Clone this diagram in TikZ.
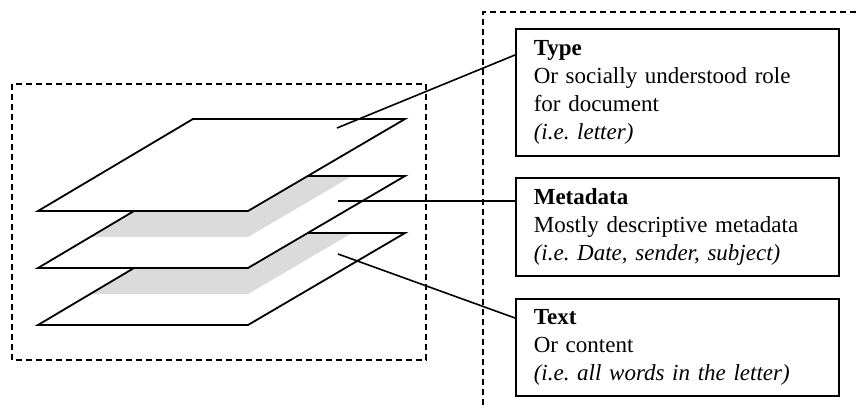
\documentclass[tikz,border=0pt]{standalone}
\usepackage{fontspec}
\setmainfont{Liberation Serif}
\usetikzlibrary{positioning,calc}
\frenchspacing

\newcommand{\sheetpath}[1]{(193,#1) -- (405,#1) -- (248,#1+92) -- (38,#1+92) -- cycle}

\begin{document}
\begin{tikzpicture}[x=0.5pt, y=-0.5pt,
    frame/.style={draw, line width=0.8pt, dash pattern=on 3pt off 2pt},
    sheet/.style={draw, line width=0.9pt, line join=miter},
    shadow/.style={fill=black!14},
    link/.style={draw, line width=0.8pt},
    infobox/.style={draw, line width=0.8pt, anchor=north west, align=left,
      text width=143.5pt, inner xsep=9pt, minimum width=161.5pt,
      font=\fontsize{11.5}{14}\selectfont}]
  \useasboundingbox (0,0) rectangle (856,405);

  % dashed frames
  \draw[frame] (12,84) rectangle (426,360);
  \draw[frame] (483,405) -- (483,12) -- (856,12);

  % bottom sheet, shaded under the middle one
  \fill[white] \sheetpath{233};
  \begin{scope}
    \clip \sheetpath{233};
    \fill[shadow] \sheetpath{202};
  \end{scope}
  \draw[sheet] \sheetpath{233};

  % middle sheet, shaded under the top one
  \fill[white] \sheetpath{176};
  \begin{scope}
    \clip \sheetpath{176};
    \fill[shadow] \sheetpath{145};
  \end{scope}
  \draw[sheet] \sheetpath{176};

  % top sheet
  \fill[white] \sheetpath{119};
  \draw[sheet] \sheetpath{119};

  % points on the sheets
  \coordinate (ontype) at (337,128);
  \coordinate (onmeta) at (338,201);
  \coordinate (ontext) at (338,254);

  % boxes
  \node[infobox, minimum height=63.5pt] (type) at (515,28)
    {\textbf{Type}\\Or socially understood role\\for document\\\textit{(i.e. letter)}};
  \node[infobox, minimum height=49pt] (meta) at (515,177)
    {\textbf{Metadata}\\Mostly descriptive metadata\\\textit{(i.e. Date, sender, subject)}};
  \node[infobox, minimum height=48.5pt] (text) at (515,298)
    {\textbf{Text}\\Or content\\\textit{(i.e. all words in the letter)}};

  \draw[link] (ontype) -- ($(type.north west)+(0,27)$);
  \draw[link] (onmeta) -- (meta.west |- onmeta);
  \draw[link] (ontext) -- ($(text.north west)+(0,20)$);
\end{tikzpicture}
\end{document}
